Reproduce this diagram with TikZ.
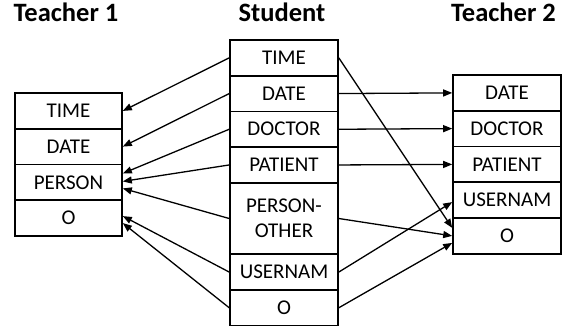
\documentclass[tikz,border=0pt]{standalone}
\usepackage{fontspec}
\setmainfont{Carlito}
\usetikzlibrary{arrows.meta}
\tikzset{
  cell/.style={draw, line width=1.6pt, minimum width=#1, inner sep=0pt, font=\fontsize{21}{25}\selectfont, align=center},
  title/.style={anchor=base, font=\fontsize{26.5}{30}\selectfont\bfseries},
  link/.style={line width=1.3pt, -{Triangle[length=9pt,width=7pt]}}
}
\begin{document}
\begin{tikzpicture}[x=1pt,y=-1pt]
\useasboundingbox (0,0) rectangle (567,333);
% titles
\node[title] (h1) at (66,21) {Teacher 1};
\node[title] (h2) at (282,21) {Student};
\node[title] (h3) at (503.5,21) {Teacher 2};
% Teacher 1
\node[cell=107pt, minimum height=35.75pt] (atime) at (68.5,110.9) {TIME};
\node[cell=107pt, minimum height=35.75pt] (adate) at (68.5,146.6) {DATE};
\node[cell=107pt, minimum height=35.75pt] (aperson) at (68.5,182.4) {PERSON};
\node[cell=107pt, minimum height=35.75pt] (ao) at (68.5,218.1) {O};
% Student
\node[cell=108pt, minimum height=35.7pt] (stime) at (284,57.85) {TIME};
\node[cell=108pt, minimum height=35.7pt] (sdate) at (284,93.55) {DATE};
\node[cell=108pt, minimum height=35.7pt] (sdoctor) at (284,129.25) {DOCTOR};
\node[cell=108pt, minimum height=35.7pt] (spatient) at (284,164.95) {PATIENT};
\node[cell=108pt, minimum height=71.4pt] (sother) at (284,218.5) {PERSON-\\OTHER};
\node[cell=108pt, minimum height=35.7pt] (suser) at (284,272.05) {USERNAM};
\node[cell=108pt, minimum height=35.7pt] (so) at (284,307.75) {O};
% Teacher 2
\node[cell=108pt, minimum height=35.75pt] (bdate) at (507,92.9) {DATE};
\node[cell=108pt, minimum height=35.75pt] (bdoctor) at (507,128.6) {DOCTOR};
\node[cell=108pt, minimum height=35.75pt] (bpatient) at (507,164.4) {PATIENT};
\node[cell=108pt, minimum height=35.75pt] (buser) at (507,200.1) {USERNAM};
\node[cell=108pt, minimum height=35.75pt] (bo) at (507,235.9) {O};
% arrows to Teacher 1
\draw[link] (stime.west) -- (atime.east);
\draw[link] (sdate.west) -- (adate.east);
\draw[link] (sdoctor.west) -- ([yshift=9pt]aperson.east);
\draw[link] (spatient.west) -- ([yshift=1pt]aperson.east);
\draw[link] (sother.west) -- ([yshift=-6pt]aperson.east);
\draw[link] (suser.west) -- ([yshift=2pt]ao.east);
\draw[link] (so.west) -- ([yshift=-5pt]ao.east);
% arrows to Teacher 2
\draw[link] (stime.east) -- ([yshift=8pt]bo.west);
\draw[link] (sdate.east) -- (bdate.west);
\draw[link] (sdoctor.east) -- (bdoctor.west);
\draw[link] (spatient.east) -- (bpatient.west);
\draw[link] (sother.east) -- (bo.west);
\draw[link] (suser.east) -- ([yshift=-2pt]buser.west);
\draw[link] (so.east) -- ([yshift=-7pt]bo.west);
\end{tikzpicture}
\end{document}
